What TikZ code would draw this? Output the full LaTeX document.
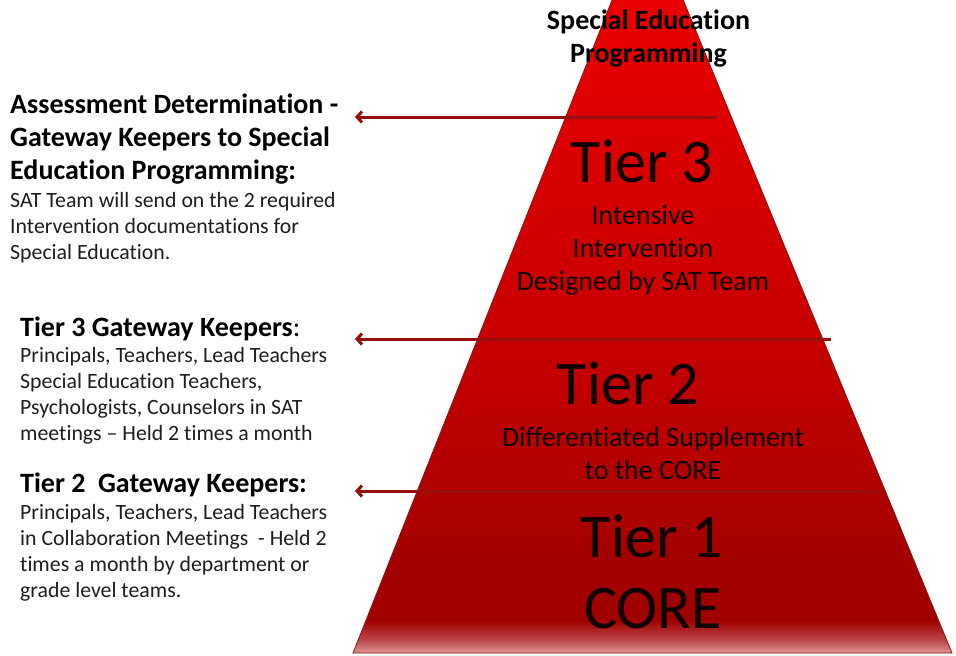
\documentclass[tikz,border=0pt]{standalone}
\usepackage{fontspec}
\setmainfont[Ligatures=NoCommon]{Carlito}
\usetikzlibrary{arrows.meta}
\definecolor{arrowred}{RGB}{150,14,14}
\definecolor{edgered}{RGB}{140,20,20}
\definecolor{bodygray}{RGB}{30,30,30}
\definecolor{tiertext}{RGB}{15,0,0}
\definecolor{pb}{RGB}{222,150,150}
\definecolor{pf}{RGB}{188,70,70}
\definecolor{pA}{RGB}{160,0,0}
\definecolor{pB}{RGB}{163,0,0}
\definecolor{pC}{RGB}{178,0,0}
\definecolor{pD}{RGB}{200,0,0}
\definecolor{pE}{RGB}{218,0,0}
\definecolor{pF}{RGB}{232,0,0}
\pgfdeclareverticalshading{pyrshade}{100bp}{color(0bp)=(pb); color(25bp)=(pb); color(25.9bp)=(pf); color(27.2bp)=(pA); color(31.3bp)=(pB); color(36.7bp)=(pC); color(46.8bp)=(pD); color(58.9bp)=(pE); color(69bp)=(pF); color(75bp)=(pF); color(100bp)=(pF)}
\begin{document}
\begin{tikzpicture}[x=1pt,y=-1pt,
  bighead/.style={font=\fontsize{28}{33}\selectfont\bfseries, text=black, anchor=base west, align=left, inner sep=0pt},
  bodytext/.style={font=\fontsize{21.8}{25.8}\selectfont, text=bodygray, anchor=base west, align=left, inner sep=0pt},
  tierbig/.style={font=\fontsize{62}{70}\selectfont, text=tiertext, anchor=base, inner sep=0pt},
  tiersub/.style={font=\fontsize{28}{33}\selectfont, text=tiertext, anchor=base, align=center, inner sep=0pt},
  toptitle/.style={font=\fontsize{28}{33}\selectfont\bfseries, text=black, anchor=base, align=center, inner sep=0pt},
  gate/.style={draw=arrowred, line width=3pt, {Straight Barb[length=5pt,width=11pt]}-}]
\useasboundingbox (0,0) rectangle (956,656);
\fill[white] (0,0) rectangle (956,656);
% pyramid
\shade[shading=pyrshade, draw=edgered, line width=0.8pt] (647,-88) -- (952,653) -- (353,653) -- cycle;
% gateway lines
\coordinate (h1) at (355,117); \coordinate (e1) at (718,117);
\coordinate (h2) at (355,339); \coordinate (e2) at (831,339);
\coordinate (h3) at (355,491); \coordinate (e3) at (878,491);
\draw[gate] (h1) -- (e1);
\draw[gate] (h2) -- (e2);
\draw[gate] (h3) -- (e3);
% pyramid texts (anchor = baseline of last line)
\node[toptitle] (title) at (648.5,62) {Special Education\\Programming};
\node[tierbig] (t3) at (642,182) {Tier 3};
\node[tiersub] (t3s) at (643,290) {Intensive\\Intervention\\Designed by SAT Team};
\node[tierbig] (t2) at (628,404) {Tier 2};
\node[tiersub] (t2s) at (653,479) {Differentiated Supplement\\to the CORE};
\node[tierbig] (t1) at (652,557) {Tier 1};
\node[tierbig] (core) at (653,628) {CORE};
% left texts (anchor = baseline of last line)
\node[bighead] (ha) at (10,179) {Assessment Determination -\\Gateway Keepers to Special\\Education Programming:};
\node[bodytext] (ba) at (10,259) {SAT Team will send on the 2 required\\Intervention documentations for\\Special Education.};
\node[bighead] (hb) at (20,336) {Tier 3 Gateway Keepers\textmd{:}};
\node[bodytext] (bb) at (20,440) {Principals, Teachers, Lead Teachers\\Special Education Teachers,\\Psychologists, Counselors in SAT\\meetings -- Held 2 times a month};
\node[bighead] (hc) at (20,492) {Tier 2\ \ Gateway Keepers:};
\node[bodytext] (bc) at (20,597) {Principals, Teachers, Lead Teachers\\in Collaboration Meetings\ \ - Held 2\\times a month by department or\\grade level teams.};
\end{tikzpicture}
\end{document}
